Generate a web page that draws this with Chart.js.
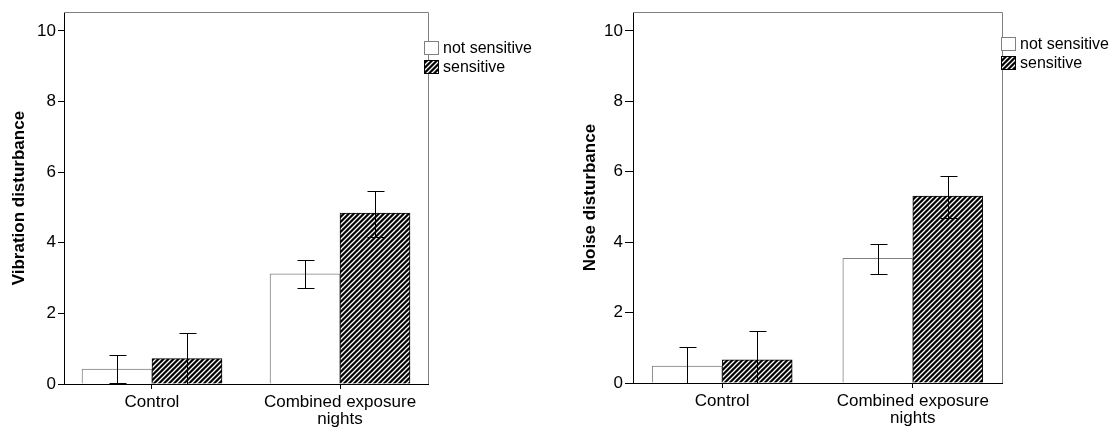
<!DOCTYPE html>
<html>
<head>
<meta charset="utf-8">
<script src="https://cdn.jsdelivr.net/npm/chart.js@4.4.1/dist/chart.umd.min.js"></script>
<style>
  body { margin: 0; background: #fff; }
  .box { position: absolute; top: 0; height: 429px; }
</style>
</head>
<body>
<div class="box" style="left:0;width:545px"><canvas id="vibChart"></canvas></div>
<div class="box" style="left:560px;width:555px"><canvas id="noiseChart"></canvas></div>
<script>
const categories = ['Control', ['Combined exposure', 'nights']];
const groups = ['not sensitive', 'sensitive'];
const yTicks = [0, 2, 4, 6, 8, 10];

// Vibration disturbance: means and error bar ends
const vibNotSens = [0.42, 3.12];
const vibNotSensLow = [0.02, 2.71];
const vibNotSensHigh = [0.81, 3.52];
const vibSens = [0.72, 4.84];
const vibSensLow = [0.0, 4.17];
const vibSensHigh = [1.45, 5.48];

// Noise disturbance
const noiseNotSens = [0.48, 3.54];
const noiseNotSensLow = [0.0, 3.10];
const noiseNotSensHigh = [1.01, 3.96];
const noiseSens = [0.66, 5.31];
const noiseSensLow = [0.0, 4.69];
const noiseSensHigh = [1.49, 5.89];

Chart.defaults.font.family = '"Liberation Sans", Arial, sans-serif';
Chart.defaults.color = '#000';

function hatch() {
  const c = document.createElement('canvas');
  c.width = 5; c.height = 5;
  const g = c.getContext('2d');
  g.fillStyle = '#000';
  g.fillRect(0, 0, 5, 5);
  g.strokeStyle = '#fff';
  g.lineWidth = 1.3;
  g.beginPath();
  g.moveTo(0, 5); g.lineTo(5, 0);
  g.moveTo(-1, 1); g.lineTo(1, -1);
  g.moveTo(4, 6); g.lineTo(6, 4);
  g.stroke();
  return g.createPattern(c, 'repeat');
}
const hatchFill = hatch();

// error bars drawn on top of the bars
const errorBars = {
  id: 'errorBars',
  afterDatasetsDraw(chart) {
    const ctx = chart.ctx;
    const y = chart.scales.y;
    ctx.save();
    ctx.strokeStyle = '#000';
    ctx.lineWidth = 1;
    chart.data.datasets.forEach((ds, di) => {
      chart.getDatasetMeta(di).data.forEach((bar, i) => {
        const x = Math.round(bar.x) + 0.5;
        const top = Math.round(y.getPixelForValue(ds.errHigh[i])) + 0.5;
        const bot = Math.round(y.getPixelForValue(ds.errLow[i])) + 0.5;
        ctx.beginPath();
        ctx.moveTo(x, top); ctx.lineTo(x, bot);
        ctx.moveTo(x - 8, top); ctx.lineTo(x + 9, top);
        ctx.moveTo(x - 8, bot); ctx.lineTo(x + 9, bot);
        ctx.stroke();
      });
    });
    ctx.restore();
  }
};

// grey top/right frame and the legend boxes
const frameLegend = {
  id: 'frameLegend',
  afterDraw(chart, args, opts) {
    const ctx = chart.ctx;
    const a = chart.chartArea;
    ctx.save();
    ctx.strokeStyle = '#808080';
    ctx.lineWidth = 1;
    ctx.beginPath();
    ctx.moveTo(Math.round(a.left), Math.round(a.top) + 0.5);
    ctx.lineTo(Math.round(a.right) + 0.5, Math.round(a.top) + 0.5);
    ctx.lineTo(Math.round(a.right) + 0.5, Math.round(a.bottom));
    ctx.stroke();

    const fills = ['#fff', hatchFill];
    const borders = ['#808080', '#000'];
    ctx.font = '16px "Liberation Sans", Arial, sans-serif';
    ctx.textBaseline = 'middle';
    groups.forEach((g, i) => {
      const bx = opts.x, by = opts.y + i * 19;
      ctx.fillStyle = fills[i];
      ctx.fillRect(bx, by, 15, 14);
      ctx.strokeStyle = borders[i];
      ctx.strokeRect(bx + 0.5, by + 0.5, 14, 13);
      ctx.fillStyle = '#000';
      ctx.fillText(g, bx + 19, by + 8);
    });
    ctx.restore();
  }
};

function makeChart(id, title, means, lows, highs, lay) {
  new Chart(document.getElementById(id), {
    type: 'bar',
    data: {
      datasets: groups.map((g, k) => ({
        label: g,
        data: means[k].map((v, i) => ({ x: i, y: v })),
        errLow: lows[k],
        errHigh: highs[k],
        backgroundColor: k === 0 ? '#fff' : hatchFill,
        borderColor: k === 0 ? '#808080' : '#000',
        borderWidth: 1,
        barThickness: 70
      }))
    },
    options: {
      responsive: true,
      maintainAspectRatio: false,
      animation: false,
      layout: { padding: { left: 0, top: lay.top, right: lay.right, bottom: 0 } },
      plugins: {
        legend: { display: false },
        tooltip: { enabled: false },
        frameLegend: { x: lay.legX, y: lay.legY }
      },
      scales: {
        x: {
          type: 'linear',
          offset: false,
          min: -0.468,
          max: 1.468,
          afterBuildTicks: s => { s.ticks = categories.map((c, i) => ({ value: i })); },
          afterFit: s => { s.height = lay.xh; },
          grid: { offset: false, drawOnChartArea: false, tickLength: 5, color: '#000' },
          border: { color: '#000' },
          ticks: {
            callback: v => categories[v],
            font: { size: 17, lineHeight: 0.98 },
            padding: 5,
            maxRotation: 0,
            autoSkip: false
          }
        },
        y: {
          min: 0,
          max: 10.53,
          afterBuildTicks: s => { s.ticks = yTicks.map(v => ({ value: v })); },
          afterFit: s => { s.width = lay.yw; },
          grid: { drawOnChartArea: false, tickLength: lay.tick, color: '#000' },
          border: { color: '#000' },
          ticks: { font: { size: 17 }, padding: 2 },
          title: {
            display: true,
            text: title,
            font: { size: 17, weight: 'bold' },
            padding: { top: lay.titlePad, bottom: 0 }
          }
        }
      }
    },
    plugins: [errorBars, frameLegend]
  });
}

makeChart('vibChart', 'Vibration disturbance',
  [vibNotSens, vibSens], [vibNotSensLow, vibSensLow], [vibNotSensHigh, vibSensHigh],
  { top: 10, right: 117, xh: 45, yw: 64, tick: 6, titlePad: 9, legX: 424, legY: 41 });

makeChart('noiseChart', 'Noise disturbance',
  [noiseNotSens, noiseSens], [noiseNotSensLow, noiseSensLow], [noiseNotSensHigh, noiseSensHigh],
  { top: 6, right: 113, xh: 46, yw: 73, tick: 8, titlePad: 20, legX: 441, legY: 37 });
</script>
</body>
</html>
